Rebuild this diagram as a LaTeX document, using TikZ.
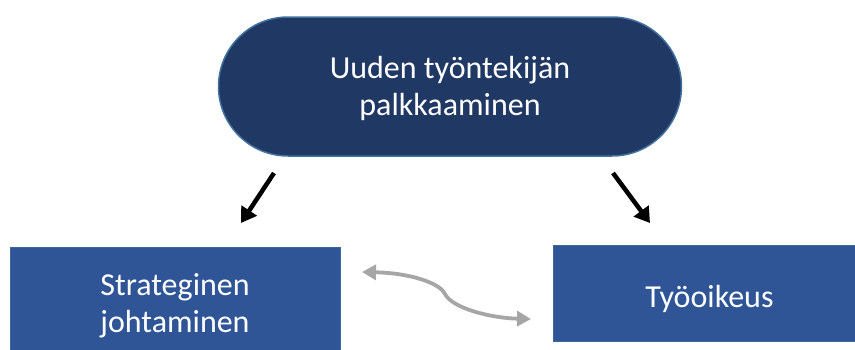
\documentclass[tikz,border=0pt]{standalone}
\usepackage{fontspec}
\setmainfont{Carlito}
\usepackage{xcolor}
\usetikzlibrary{shapes.misc,arrows.meta}

\definecolor{navy}{RGB}{32,56,100}
\definecolor{navyline}{RGB}{65,113,156}
\definecolor{boxblue}{RGB}{47,85,151}
\definecolor{linkgray}{RGB}{166,166,166}

\begin{document}
\begin{tikzpicture}[x=1pt,y=-1pt,
    topic/.style={rounded rectangle, draw=navyline, line width=1.5pt, fill=navy,
        text=white, align=center, font=\fontsize{32}{37}\selectfont,
        minimum width=463pt, minimum height=139pt, inner sep=0pt},
    area/.style={rectangle, draw=navyline!70!boxblue, line width=0.8pt, fill=boxblue,
        text=white, align=center, font=\fontsize{32}{37}\selectfont, inner sep=0pt},
    down/.style={line width=4.5pt, -{Triangle[length=15pt,width=18pt]}},
    link/.style={linkgray, line width=3.8pt, {Triangle[length=14pt,width=15pt]}-{Triangle[length=14pt,width=15pt]}}]
    \clip (0,0) rectangle (855,349);

    \node [topic, text height=57pt, text depth=0pt] at (450,86.5) (hire) {Uuden työntekijän\\palkkaaminen};

    \node [area, minimum width=330pt, minimum height=118pt] at (175,306) (strat) {Strateginen\\johtaminen};
    \node [area, minimum width=313pt, minimum height=96pt, text height=29pt, text depth=0pt] at (709.5,293) (law) {Työoikeus};

    \coordinate (l1) at (274,173);
    \coordinate (l2) at (241,223);
    \coordinate (r1) at (613,173);
    \coordinate (r2) at (650,223);
    \coordinate (s1) at (362,272);
    \coordinate (s2) at (531,319);

    \draw [down] (l1) -- (l2);
    \draw [down] (r1) -- (r2);
    \draw [link] (s1) .. controls (410,273) and (440,283) .. (445,294)
        .. controls (452,308) and (490,318) .. (s2);
\end{tikzpicture}
\end{document}
